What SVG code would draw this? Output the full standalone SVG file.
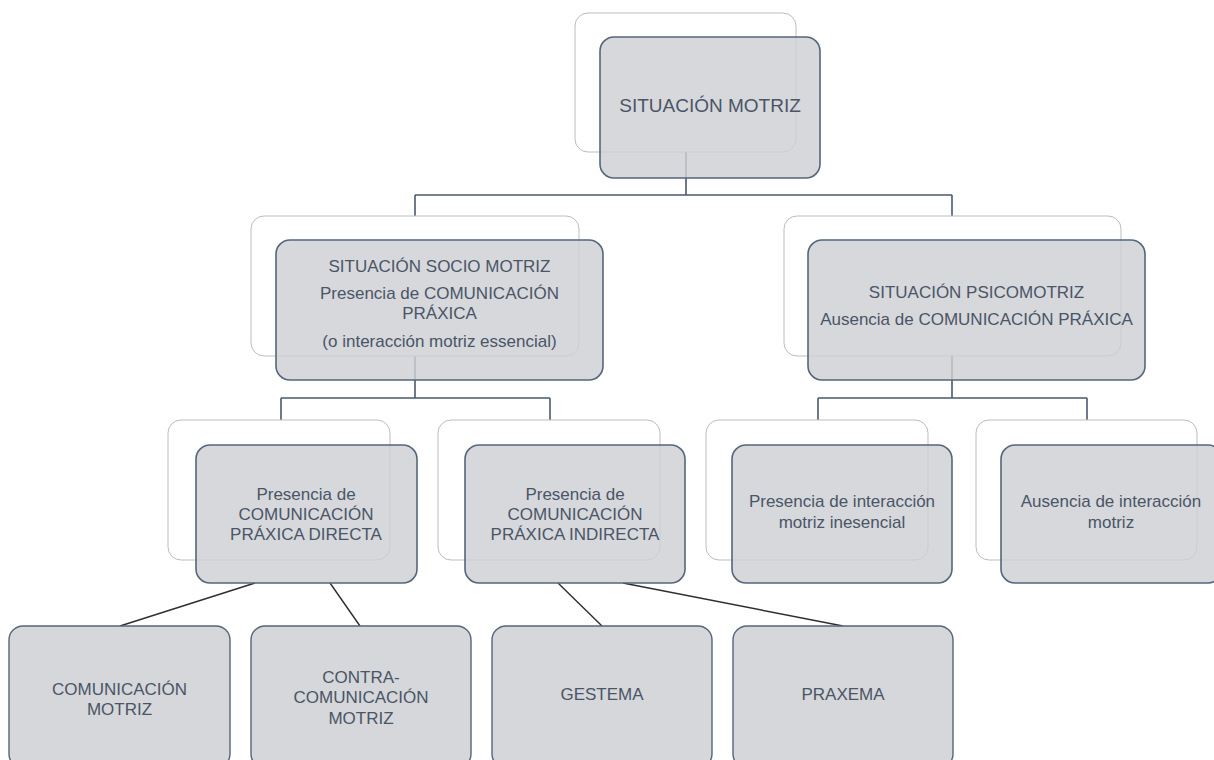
<svg xmlns="http://www.w3.org/2000/svg" width="1214" height="760" viewBox="0 0 1214 760">
<style>
.bk{fill:#ffffff;stroke:#bdbdbd;stroke-width:1}
.mn{fill:#cdd0d4;fill-opacity:0.82;stroke:#56667a;stroke-width:1.6}
.lf{fill:#d5d7da;stroke:#56667a;stroke-width:1.4}
.tx{font-family:"Liberation Sans",Arial,sans-serif;font-size:17px;fill:#4a5566;text-anchor:middle}
.big{font-size:19px}
.el{fill:none;stroke:#4a5a6e;stroke-width:1.6}
.dg{fill:none;stroke:#2e2e2e;stroke-width:1.4}
</style>
<rect width="1214" height="760" fill="#ffffff"/>
<g id="connectors">
<path class="el" d="M686,152 V195 M415,195 H952 M415,195 V216 M952,195 V216"/>
<path class="el" d="M415,356 V398 M281,398 H550 M281,398 V420 M550,398 V420"/>
<path class="el" d="M952,356 V398 M818,398 H1087 M818,398 V420 M1087,398 V420"/>
<path class="dg" d="M255,583 L120,626 M330,583 L360,626 M558,583 L602,626 M623,583 L843,626"/>
</g>
<g id="n-situacion-motriz">
<rect class="bk" x="575" y="13" width="221" height="139" rx="13"/>
<rect class="mn" x="600" y="37" width="220" height="141" rx="14"/>
<text class="tx big" x="710" y="112">SITUACIÓN MOTRIZ</text>
</g>
<g id="n-socio-motriz">
<rect class="bk" x="251" y="216" width="328" height="140" rx="13"/>
<rect class="mn" x="276" y="240" width="327" height="140" rx="14"/>
<text class="tx" x="439.5" y="272">SITUACIÓN SOCIO MOTRIZ</text>
<text class="tx" x="439.5" y="299">Presencia de COMUNICACIÓN</text>
<text class="tx" x="439.5" y="319">PRÁXICA</text>
<text class="tx" x="439.5" y="347">(o interacción motriz essencial)</text>
</g>
<g id="n-psicomotriz">
<rect class="bk" x="784" y="216" width="337" height="140" rx="13"/>
<rect class="mn" x="808" y="240" width="337" height="140" rx="14"/>
<text class="tx" x="976.5" y="298">SITUACIÓN PSICOMOTRIZ</text>
<text class="tx" x="976.5" y="325">Ausencia de COMUNICACIÓN PRÁXICA</text>
</g>
<g id="n-directa">
<rect class="bk" x="168" y="420" width="222" height="140" rx="13"/>
<rect class="mn" x="196" y="445" width="221" height="138" rx="14"/>
<text class="tx" x="306" y="500">Presencia de</text>
<text class="tx" x="306" y="520">COMUNICACIÓN</text>
<text class="tx" x="306" y="540">PRÁXICA DIRECTA</text>
</g>
<g id="n-indirecta">
<rect class="bk" x="438" y="420" width="222" height="140" rx="13"/>
<rect class="mn" x="465" y="445" width="220" height="138" rx="14"/>
<text class="tx" x="575" y="500">Presencia de</text>
<text class="tx" x="575" y="520">COMUNICACIÓN</text>
<text class="tx" x="575" y="540">PRÁXICA INDIRECTA</text>
</g>
<g id="n-inesencial">
<rect class="bk" x="706" y="420" width="222" height="140" rx="13"/>
<rect class="mn" x="732" y="445" width="220" height="138" rx="14"/>
<text class="tx" x="842" y="507">Presencia de interacción</text>
<text class="tx" x="842" y="528">motriz inesencial</text>
</g>
<g id="n-ausencia">
<rect class="bk" x="976" y="420" width="221" height="140" rx="13"/>
<rect class="mn" x="1001" y="445" width="221" height="138" rx="14"/>
<text class="tx" x="1111" y="507">Ausencia de interacción</text>
<text class="tx" x="1111" y="528">motriz</text>
</g>
<g id="n-comunicacion-motriz">
<rect class="lf" x="9" y="626" width="221" height="142" rx="14"/>
<text class="tx" x="119.5" y="695">COMUNICACIÓN</text>
<text class="tx" x="119.5" y="715">MOTRIZ</text>
</g>
<g id="n-contra">
<rect class="lf" x="251" y="626" width="220" height="142" rx="14"/>
<text class="tx" x="361" y="683">CONTRA-</text>
<text class="tx" x="361" y="703">COMUNICACIÓN</text>
<text class="tx" x="361" y="724">MOTRIZ</text>
</g>
<g id="n-gestema">
<rect class="lf" x="492" y="626" width="220" height="142" rx="14"/>
<text class="tx" x="602" y="700">GESTEMA</text>
</g>
<g id="n-praxema">
<rect class="lf" x="733" y="626" width="220" height="142" rx="14"/>
<text class="tx" x="843" y="700">PRAXEMA</text>
</g>
</svg>
